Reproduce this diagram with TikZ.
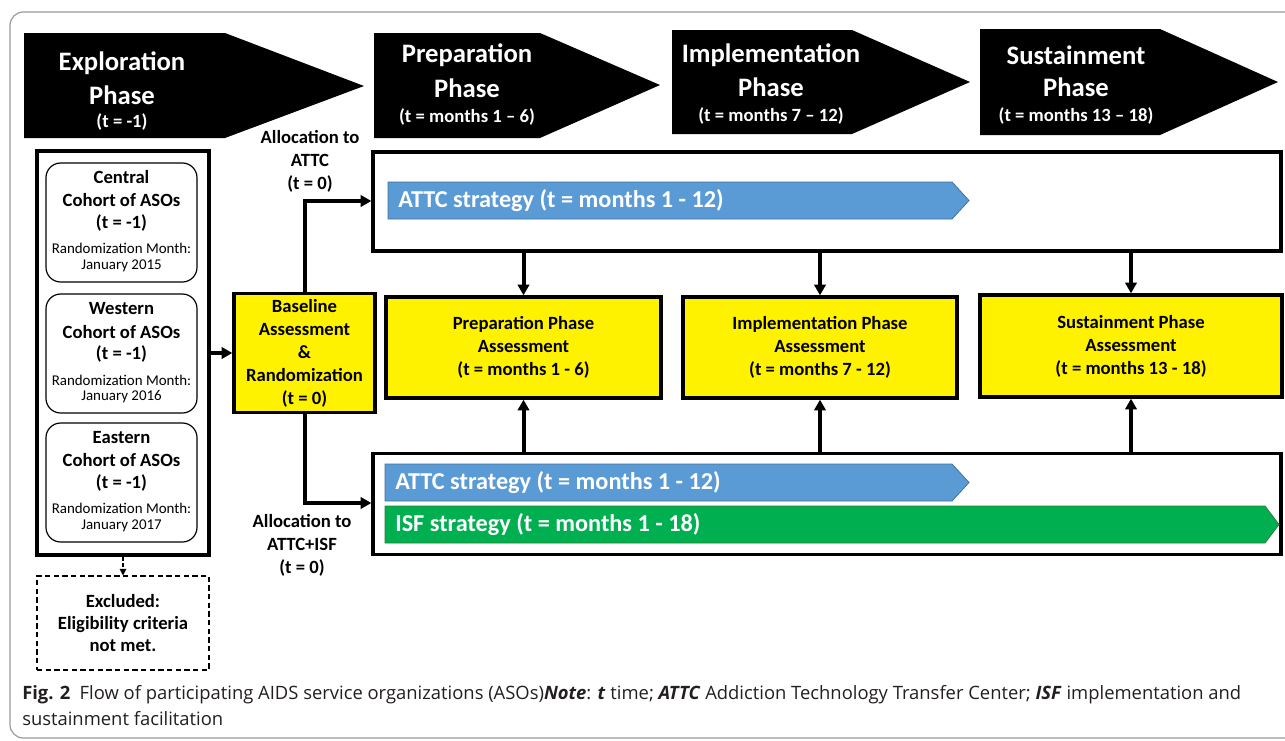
\documentclass[tikz,border=0pt]{standalone}
\usepackage{fontspec}
\setmainfont{Carlito}
\newfontfamily\capfont{Open Sans}
\usetikzlibrary{arrows.meta}
\definecolor{barblue}{HTML}{5B9BD5}
\definecolor{barblueline}{HTML}{41719C}
\definecolor{bargreen}{HTML}{00B050}
\definecolor{bargreenline}{HTML}{2E7D32}
\definecolor{frame}{HTML}{9A9A9A}
\definecolor{captext}{HTML}{231F20}
\begin{document}
\begin{tikzpicture}[x=0.75pt,y=-0.75pt,
  phase/.style={fill=black},
  phasetxt/.style={text=white,font=\bfseries\fontsize{20}{24}\selectfont,inner sep=0pt},
  phasesub/.style={text=white,font=\bfseries\fontsize{14}{16}\selectfont,inner sep=0pt},
  bigbox/.style 2 args={draw,line width=2.5pt,minimum width={#1*0.75pt},minimum height={#2*0.75pt},inner sep=0pt},
  yellowbox/.style 2 args={bigbox={#1}{#2},fill=yellow,align=center,font=\bfseries\fontsize{14}{17.2}\selectfont},
  cohort/.style={draw,line width=0.9pt,rounded corners=11pt,minimum width={151*0.75pt},minimum height={119*0.75pt},inner sep=0pt},
  ttl/.style={font=\bfseries\fontsize{14}{17}\selectfont,inner sep=0pt},
  sml/.style={font=\fontsize{11.2}{13}\selectfont,inner sep=0pt},
  lbl/.style={font=\bfseries\fontsize{14}{17.2}\selectfont,align=center,inner sep=0pt},
  bartxt/.style={text=white,font=\bfseries\fontsize{18.2}{22}\selectfont,inner sep=0pt,anchor=west},
  flow/.style={line width=3pt,-{Triangle[length=8pt,width=8.5pt]}},
  dashflow/.style={line width=0.8pt,dash pattern=on 3pt off 2pt,-{Triangle[length=5pt,width=5pt]}},
  captxt/.style={anchor=west,inner sep=0pt,text=captext,font=\capfont\fontsize{13.8}{16}\selectfont}
]
\useasboundingbox (0,0) rectangle (1285,740);
\fill[white] (0,0) rectangle (1285,740);
% outer frame
\draw[frame,line width=0.9pt,rounded corners=10pt] (1300,12) -- (10,12) -- (10,738) -- (1300,738);

% phase arrows
\fill[phase] (24,33) -- (225,33) -- (364,86) -- (225,138) -- (24,138) -- cycle;
\fill[phase] (374,33) -- (540,33) -- (660,85) -- (540,138) -- (374,138) -- cycle;
\fill[phase] (672,30) -- (852,30) -- (970,82) -- (852,134) -- (672,134) -- cycle;
\fill[phase] (980,29) -- (1160,29) -- (1278,82) -- (1160,135) -- (980,135) -- cycle;

\node[phasetxt] (ex1) at (122,63) {Exploration};
\node[phasetxt] (ex2) at (122,95) {Phase};
\node[phasesub] (ex3) at (122,122) {(t = -1)};
\node[phasetxt] (pr1) at (467,55) {Preparation};
\node[phasetxt] (pr2) at (467,88) {Phase};
\node[phasesub] (pr3) at (467,117) {(t = months 1 – 6)};
\node[phasetxt] (im1) at (771,55) {Implementation};
\node[phasetxt] (im2) at (771,87) {Phase};
\node[phasesub] (im3) at (771,116) {(t = months 7 – 12)};
\node[phasetxt] (su1) at (1076,55) {Sustainment};
\node[phasetxt] (su2) at (1076,87) {Phase};
\node[phasesub] (su3) at (1076,116) {(t = months 13 – 18)};

% left cohort box
\node[bigbox={172}{404}] (left) at (123,353) {};
\node[cohort] (central) at (121.5,222.5) {};
\node[cohort] (western) at (121.5,353.5) {};
\node[cohort] (eastern) at (121.5,482.5) {};
\node[ttl] at (121.5,177) {Central};
\node[ttl] at (121.5,200) {Cohort of ASOs};
\node[ttl] at (121.5,223) {(t = -1)};
\node[sml] at (121.5,248) {Randomization Month:};
\node[sml] at (121.5,266) {January 2015};
\node[ttl] at (121.5,309) {Western};
\node[ttl] at (121.5,332) {Cohort of ASOs};
\node[ttl] at (121.5,354) {(t = -1)};
\node[sml] at (121.5,380) {Randomization Month:};
\node[sml] at (121.5,397) {January 2016};
\node[ttl] at (121.5,438) {Eastern};
\node[ttl] at (121.5,460) {Cohort of ASOs};
\node[ttl] at (121.5,483) {(t = -1)};
\node[sml] at (121.5,508) {Randomization Month:};
\node[sml] at (121.5,526) {January 2017};

% excluded
\node[draw,dash pattern=on 4pt off 2.5pt,line width=0.8pt,minimum width={172*0.75pt},minimum height={94*0.75pt},inner sep=0pt,
      align=center,font=\bfseries\fontsize{14}{16.5}\selectfont] (excl) at (123,623)
      {Excluded:\\Eligibility criteria\\not met.};
\draw[dashflow] (left.south) -- (excl.north);

% baseline
\node[yellowbox={141}{119}] (base) at (304.5,353) {Baseline\\Assessment\\\&\\Randomization\\(t = 0)};
\draw[flow] (left.east |- base.west) -- (base.west);

% ATTC box
\node[bigbox={908}{99}] (attc) at (827,201.5) {};
\fill[barblue,draw=barblueline,line width=0.6pt] (388,182) -- (952,182) -- (969,200.5) -- (952,219) -- (388,219) -- cycle;
\node[bartxt] (attcbar) at (398,201) {ATTC strategy (t = months 1 - 12)};

% ATTC+ISF box
\node[bigbox={908}{101}] (isf) at (827,504) {};
\fill[barblue,draw=barblueline,line width=0.6pt] (385,464) -- (952,464) -- (969,482.5) -- (952,501) -- (385,501) -- cycle;
\node[bartxt] (attcbar2) at (395,483) {ATTC strategy (t = months 1 - 12)};
\fill[bargreen,draw=bargreenline,line width=0.6pt] (385,506) -- (1265,506) -- (1279,524.5) -- (1265,543) -- (385,543) -- cycle;
\node[bartxt] (isfbar) at (395,525) {ISF strategy (t = months 1 - 18)};

% allocation connectors
\coordinate (bt) at (304.5,201);
\coordinate (bb) at (304.5,503);
\draw[flow] (base.north) -- (bt) -- (attc.west |- bt);
\draw[flow] (base.south) -- (bb) -- (isf.west |- bb);
\node[lbl] (lab1) at (310,161) {Allocation to\\ATTC\\(t = 0)};
\node[lbl] (lab2) at (302,545) {Allocation to\\ATTC+ISF\\(t = 0)};

% assessment boxes
\node[yellowbox={275}{101}] (prep) at (523.5,347.5) {Preparation Phase\\Assessment\\(t = months 1 - 6)};
\node[yellowbox={274}{101}] (impl) at (820,347.5) {Implementation Phase\\Assessment\\(t = months 7 - 12)};
\node[yellowbox={302}{102}] (sust) at (1131,346) {Sustainment Phase\\Assessment\\(t = months 13 - 18)};

\foreach \b in {prep,impl,sust}{
  \draw[flow] (attc.south -| \b.north) -- (\b.north);
  \draw[flow] (isf.north -| \b.south) -- (\b.south);
}

% caption
\node[captxt] (cap1) at (22,695)
  {\textbf{Fig. 2}\enspace Flow of participating AIDS service organizations (ASOs)\textit{\textbf{Note}}: \textit{\textbf{t}} time; \textit{\textbf{ATTC}} Addiction Technology Transfer Center; \textit{\textbf{ISF}} implementation and};
\node[captxt] (cap2) at (22,719) {sustainment facilitation};
\end{tikzpicture}
\end{document}
